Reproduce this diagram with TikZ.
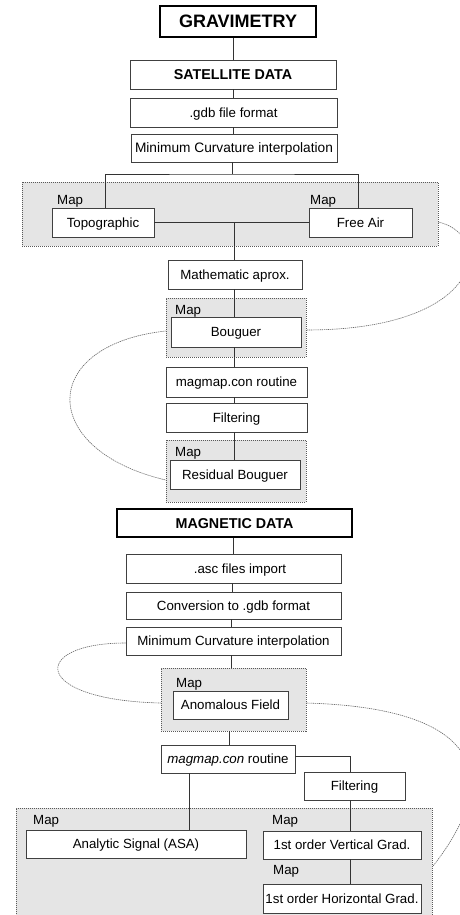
\documentclass[tikz,border=0pt]{standalone}
\usepackage{fontspec}
\setmainfont{Liberation Sans}
\begin{document}
\begin{tikzpicture}[x=1pt,y=-1pt,
  every node/.style={inner sep=0pt, font=\fontsize{13.3}{15}\selectfont, text height=9.4pt, text depth=0pt},
  box/.style={draw=black!75, fill=white, line width=0.8pt},
  titlebox/.style={draw=black, fill=white, line width=2pt, font=\fontsize{14.3}{16}\selectfont\bfseries, text height=10.2pt},
  region/.style={draw=black!65, fill=black!10, line width=0.6pt, dash pattern=on 1pt off 1pt},
  maplbl/.style={anchor=west},
  conn/.style={draw=black!80, line width=0.8pt},
  link/.style={draw=black!60, line width=0.6pt, dash pattern=on 1.3pt off 0.8pt}]
\useasboundingbox (0,0) rectangle (459,915);
% regions
\node[region, minimum width=416pt, minimum height=64pt] (reg1) at (230,214) {};
\node[region, minimum width=140pt, minimum height=59pt] (reg2) at (236,327.5) {};
\node[region, minimum width=140pt, minimum height=62pt] (reg3) at (236,471) {};
\node[region, minimum width=145pt, minimum height=63pt] (reg4) at (233.5,699.5) {};
\node[region, minimum width=416pt, minimum height=127pt] (reg5) at (224,871.5) {};
% gravimetry
\node[titlebox, minimum width=156pt, minimum height=31pt, font=\fontsize{18}{20}\selectfont\bfseries, text height=12.9pt] (grav) at (238,21.5) {GRAVIMETRY};
\node[box, minimum width=206pt, minimum height=29pt, font=\fontsize{14.3}{16}\selectfont\bfseries, text height=10.2pt] (sat) at (233,74.5) {SATELLITE DATA};
\node[box, minimum width=207pt, minimum height=29pt] (gdb) at (233.5,112.5) {.gdb file format};
\node[box, minimum width=206pt, minimum height=28pt, font=\fontsize{13.7}{15}\selectfont] (mci) at (234,148) {Minimum Curvature interpolation};
\node[maplbl] (map1) at (57,200) {Map};
\node[maplbl] (map2) at (310,200) {Map};
\node[box, minimum width=102pt, minimum height=29pt] (topo) at (103,222.5) {Topographic};
\node[box, minimum width=103pt, minimum height=29pt] (free) at (360.5,222.5) {Free Air};
\node[box, minimum width=134pt, minimum height=29pt] (math) at (235,274.5) {Mathematic aprox.};
\node[maplbl] (map3) at (175,310) {Map};
\node[box, minimum width=130pt, minimum height=30pt] (boug) at (236,332) {Bouguer};
\node[box, minimum width=141pt, minimum height=30pt] (magr) at (236.5,382) {magmap.con routine};
\node[box, minimum width=141pt, minimum height=29pt] (filt) at (236.5,417.5) {Filtering};
\node[maplbl] (map4) at (175,452) {Map};
\node[box, minimum width=130pt, minimum height=29pt] (resb) at (235,474.5) {Residual Bouguer};
% magnetic
\node[titlebox, minimum width=235pt, minimum height=28pt] (mag) at (234.5,523) {MAGNETIC DATA};
\node[box, minimum width=215pt, minimum height=29pt] (asc) at (233.5,568.5) {\hspace{13pt}.asc files import};
\node[box, minimum width=215pt, minimum height=27pt] (conv) at (233.5,605.5) {Conversion to .gdb format};
\node[box, minimum width=215pt, minimum height=28pt] (mci2) at (233.5,641) {Minimum Curvature interpolation};
\node[maplbl] (map5) at (176,683) {Map};
\node[box, minimum width=115pt, minimum height=28pt] (anom) at (230.5,705) {Anomalous Field};
\node[box, minimum width=134pt, minimum height=28pt] (magr2) at (228,759) {\textit{magmap.con} routine};
\node[box, minimum width=101pt, minimum height=28pt] (filt2) at (354.5,786) {Filtering\hspace{12pt}};
\node[maplbl] (map6) at (33,820) {Map};
\node[maplbl] (map7) at (272,820) {Map};
\node[box, minimum width=220pt, minimum height=28pt] (asa) at (136,844) {Analytic Signal (ASA)};
\node[box, minimum width=158pt, minimum height=28pt] (vg) at (342,845) {1st order Vertical Grad.};
\node[maplbl] (map8) at (273,870) {Map};
\node[box, minimum width=158pt, minimum height=29pt] (hg) at (342,898.5) {1st order Horizontal Grad.};
% junctions
\coordinate (j1) at (232,174);
\coordinate (j2) at (234,222.5);
% connectors
\draw[conn] (sat.north) -- (sat.north |- grav.south);
\draw[conn] (sat.south) -- (gdb.north -| sat.south);
\draw[conn] (gdb.south) -- (mci.north -| gdb.south);
\draw[conn] (mci.south -| j1) -- (j1);
\draw[conn] ([xshift=2pt]topo.north) |- (j1) -| ([xshift=-2pt]free.north);
\draw[conn] (topo.east) -- (free.west);
\draw[conn] (j2) -- (math.north -| j2);
\draw[conn] (math.south -| j2) -- (boug.north -| j2);
\draw[conn] (boug.south -| j2) -- (magr.north -| j2);
\draw[conn] (magr.south -| j2) -- (filt.north -| j2);
\draw[conn] (filt.south -| j2) -- (resb.north -| j2);
\draw[conn] (mag.south -| 233,0) -- (asc.north -| 233,0);
\draw[conn] (asc.south -| 232,0) -- (conv.north -| 232,0);
\draw[conn] (conv.south -| 231.5,0) -- (mci2.north -| 231.5,0);
\draw[conn] (mci2.south -| 231,0) -- (reg4.north -| 231,0);
\draw[conn] (reg4.south -| 229,0) -- (magr2.north -| 229,0);
\draw[conn] ([yshift=3pt]magr2.east) -| (filt2.north -| 350,0);
\draw[conn] ([xshift=-39pt]magr2.south) -- ([xshift=-39pt]magr2.south |- asa.north);
\draw[conn] ([xshift=-4.5pt]filt2.south) -- ([xshift=-4.5pt]filt2.south |- vg.north);
\draw[conn] ([xshift=8pt]vg.south) -- ([xshift=8pt]hg.north);
% dashed links
\draw[link] (reg1.east |- 0,222) .. controls (495,235) and (485,330) .. (reg2.east |- 0,330);
\draw[link] (reg2.west |- 0,331) .. controls (38,345) and (38,450) .. (reg3.west |- 0,480);
\draw[link] (mci2.west |- 0,643) .. controls (30,643) and (30,700) .. (reg4.west |- 0,703);
\draw[link] (reg4.east |- 0,703) .. controls (480,708) and (505,775) .. (reg5.east |- 0,867);
\end{tikzpicture}
\end{document}
